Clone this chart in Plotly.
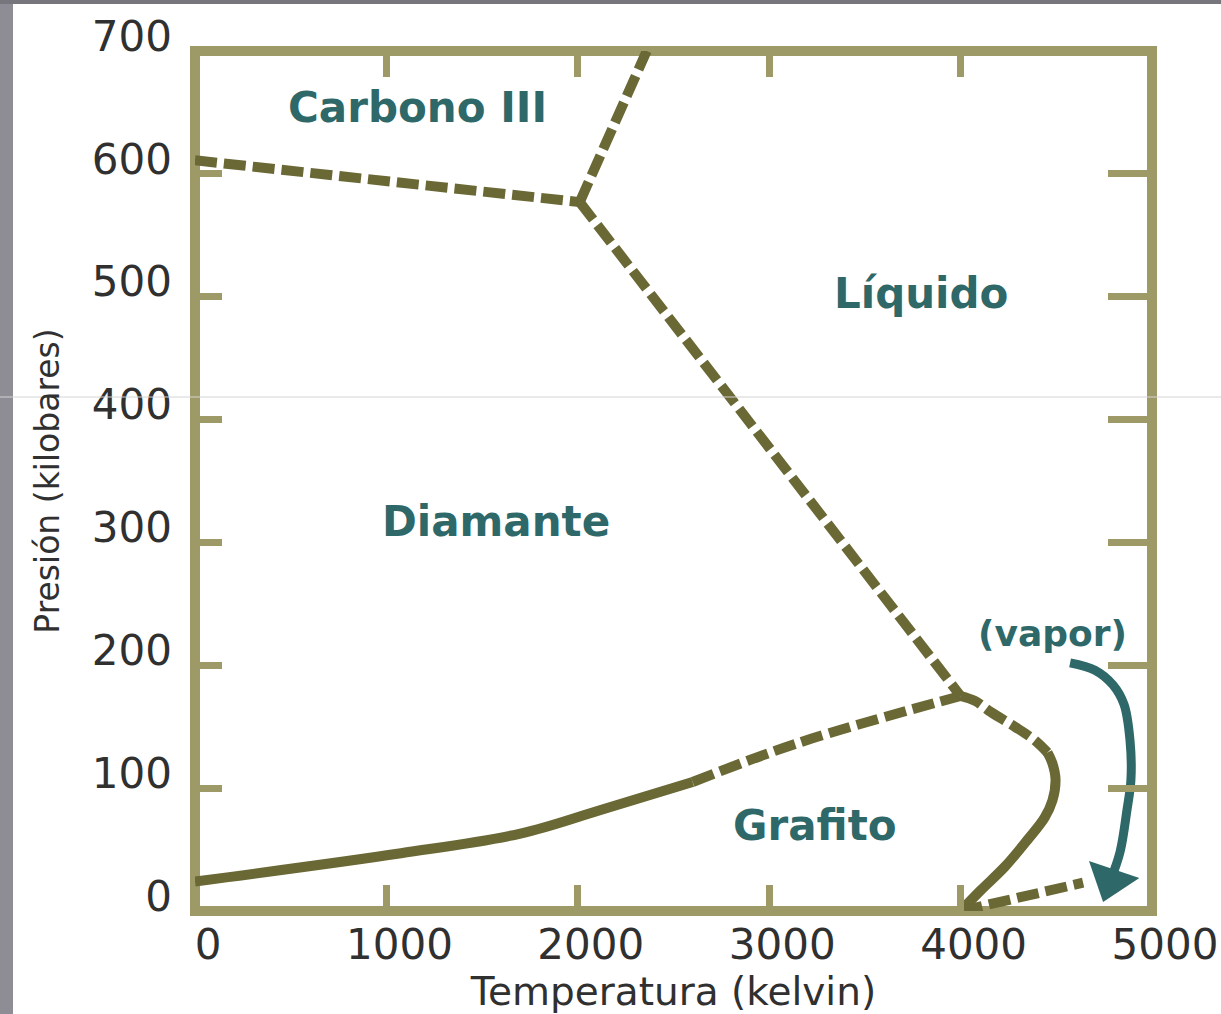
import plotly.graph_objects as go

# ---- data (Temperatura in K, Presión in kbar) ----
x_ticks = [0, 1000, 2000, 3000, 4000, 5000]
y_ticks = [0, 100, 200, 300, 400, 500, 600, 700]

c3_diam_T = [0, 2010]
c3_diam_P = [611, 577]

c3_liq_T = [2010, 2360]
c3_liq_P = [577, 700]

diam_liq_T = [2010, 4000]
diam_liq_P = [577, 175]

diam_graf_solid_T = [0, 1076, 1700, 2115, 2600]
diam_graf_solid_P = [24, 47, 63, 82, 105]

diam_graf_dash_T = [2600, 3155, 4000]
diam_graf_dash_P = [105, 137, 175]

graf_liq_dash_T = [4000, 4075, 4158, 4283, 4387, 4454]
graf_liq_dash_P = [175, 171, 162, 150, 139, 129]

graf_liq_solid_T = [4454, 4480, 4496, 4480, 4439, 4350, 4231, 4106, 4000]
graf_liq_solid_P = [129, 120, 107, 90, 76, 58, 36, 17, 0]

graf_vap_T = [4000, 4640]
graf_vap_P = [0, 23]

vapor_arrow_T = [4572, 4702, 4796, 4854, 4885, 4890, 4869, 4833, 4783]
vapor_arrow_P = [202, 196, 184, 168, 139, 107, 82, 48, 25]

region_labels = ["Carbono III", "Diamante", "Líquido", "Grafito", "(vapor)"]
region_T = [1162, 1570, 3795, 3240, 4479]
region_P = [654, 317, 502.5, 70, 226]
region_sizes = [42, 42, 42, 42, 36]

# ---- styles ----
LINE = "#6a6835"
FRAME = "#9e9a68"
TEAL = "#2e6868"
TXT = "#303030"
FONT = "DejaVu Sans"
DASH = "22px,7px"

fig = go.Figure()


def add_line(T, P, dashed, shape="linear"):
    fig.add_trace(go.Scatter(
        x=T, y=P, mode="lines",
        line=dict(color=LINE, width=10, dash=DASH if dashed else "solid", shape=shape),
        hoverinfo="skip", showlegend=False))


add_line(c3_diam_T, c3_diam_P, True)
add_line(c3_liq_T, c3_liq_P, True)
add_line(diam_liq_T, diam_liq_P, True)
add_line(diam_graf_solid_T, diam_graf_solid_P, False, "spline")
add_line(diam_graf_dash_T, diam_graf_dash_P, True, "spline")
add_line(graf_liq_dash_T, graf_liq_dash_P, True, "spline")
add_line(graf_liq_solid_T, graf_liq_solid_P, False, "spline")
add_line(graf_vap_T, graf_vap_P, True)

# vapor arrow (curved) on the right-hand axis, plus its head
fig.add_trace(go.Scatter(
    x=vapor_arrow_T, y=vapor_arrow_P, yaxis="y2", mode="lines",
    line=dict(color=TEAL, width=9, shape="spline"),
    hoverinfo="skip", showlegend=False))
fig.add_trace(go.Scatter(
    x=vapor_arrow_T[-2:], y=vapor_arrow_P[-2:], yaxis="y2", mode="markers",
    marker=dict(size=[0, 46], symbol="triangle-up", angleref="previous",
                color=TEAL, opacity=1, line=dict(width=0)),
    hoverinfo="skip", showlegend=False))

for txt, t, p, s in zip(region_labels, region_T, region_P, region_sizes):
    fig.add_annotation(x=t, y=p, text=txt, showarrow=False,
                       font=dict(family=FONT, size=s, color=TEAL, weight="bold"),
                       xanchor="center", yanchor="middle")

L, R, T_, B = 195, 69, 51, 103
W, H = 1221, 1014
pw, ph = W - L - R, H - T_ - B


def px2paper_x(px):
    return (px - L) / pw


def px2paper_y(py):
    return (H - B - py) / ph


# frame (centred on the plot-area edges)
fig.add_shape(type="rect", xref="paper", yref="paper", x0=0, x1=1, y0=0, y1=1,
              line=dict(color=FRAME, width=10), layer="below")

# scan artefacts: grey border strips and a faint horizontal line
fig.add_shape(type="rect", xref="paper", yref="paper",
              x0=px2paper_x(0), x1=px2paper_x(13), y0=px2paper_y(H), y1=px2paper_y(0),
              fillcolor="#8e8d95", line=dict(width=0), layer="below")
fig.add_shape(type="rect", xref="paper", yref="paper",
              x0=px2paper_x(0), x1=px2paper_x(W), y0=px2paper_y(4), y1=px2paper_y(0),
              fillcolor="#77767c", line=dict(width=0), layer="below")
fig.add_shape(type="line", xref="paper", yref="paper",
              x0=px2paper_x(0), x1=px2paper_x(W), y0=px2paper_y(397), y1=px2paper_y(397),
              line=dict(color="#d4d4d4", width=1), layer="above")

axis_common = dict(showgrid=False, zeroline=False, ticks="inside", automargin=False,
                   tickcolor=FRAME, tickwidth=7, showline=False)

fig.update_layout(
    width=W, height=H,
    margin=dict(l=L, r=R, t=T_, b=B, autoexpand=False),
    paper_bgcolor="white", plot_bgcolor="white",
    xaxis=dict(range=[0, 5000], tickvals=x_ticks, ticklen=26, mirror="ticks",
               tickfont=dict(family=FONT, size=42, color=TXT),
               ticklabelshift=13, ticklabelstandoff=5,
               title=dict(text="Temperatura (kelvin)", standoff=7,
                          font=dict(family=FONT, size=39, color=TXT)),
               **axis_common),
    yaxis=dict(range=[0, 700], tickvals=y_ticks, ticklen=27,
               tickfont=dict(family=FONT, size=42, color=TXT),
               ticklabelshift=-15, ticklabelstandoff=22,
               title=dict(text="Presión (kilobares)", standoff=22,
                          font=dict(family=FONT, size=33, color=TXT)),
               **axis_common),
    yaxis2=dict(range=[0, 700], tickvals=y_ticks, ticklen=44, overlaying="y",
                side="right", showticklabels=False, **axis_common),
)

fig.write_html("out.html",
               config={"displayModeBar": False},
               post_script="document.body.style.margin='0';"
                           "document.body.style.overflow='hidden';")
